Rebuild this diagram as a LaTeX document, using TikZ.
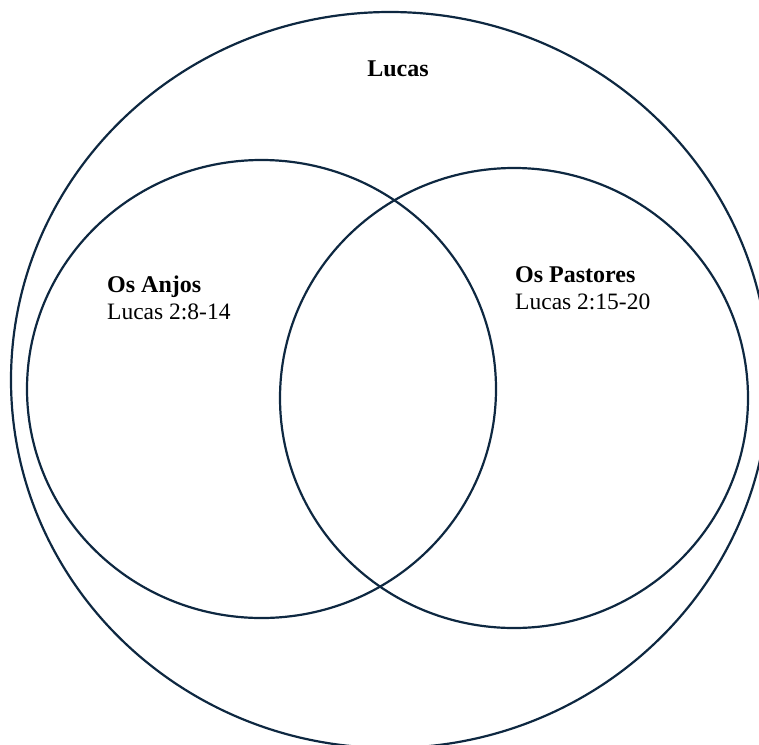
\documentclass[tikz,border=0pt]{standalone}
\usepackage{fontspec}
\setmainfont{Liberation Serif}
\usetikzlibrary{positioning}
\definecolor{ring}{HTML}{0E2841}
\tikzset{
  set/.style={draw=ring,line width=2.2pt},
  lbl/.style={inner sep=0pt,anchor=base west,font=\fontsize{23.5}{27}\selectfont},
  ttl/.style={lbl,font=\fontsize{24}{27}\selectfont\bfseries},
}
\begin{document}
\begin{tikzpicture}[x=1pt,y=-1pt]
\useasboundingbox (0,0) rectangle (759,744);
\clip (0,0) rectangle (759,744);
% the three sets
\draw[set] (390,380) ellipse [x radius=379,y radius=368];
\draw[set] (261.5,389) ellipse [x radius=234.5,y radius=229];
\draw[set] (514,398) ellipse [x radius=234,y radius=230];
% labels
\node[ttl,anchor=base] (lucas) at (398,76) {Lucas};
\node[ttl] (anjos) at (107,292) {Os Anjos};
\node[lbl] (anjosref) at ([yshift=-27pt]anjos.base west) {Lucas 2:8-14};
\node[ttl] (pastores) at (515,282) {Os Pastores};
\node[lbl] (pastoresref) at ([yshift=-27pt]pastores.base west) {Lucas 2:15-20};
\end{tikzpicture}
\end{document}
